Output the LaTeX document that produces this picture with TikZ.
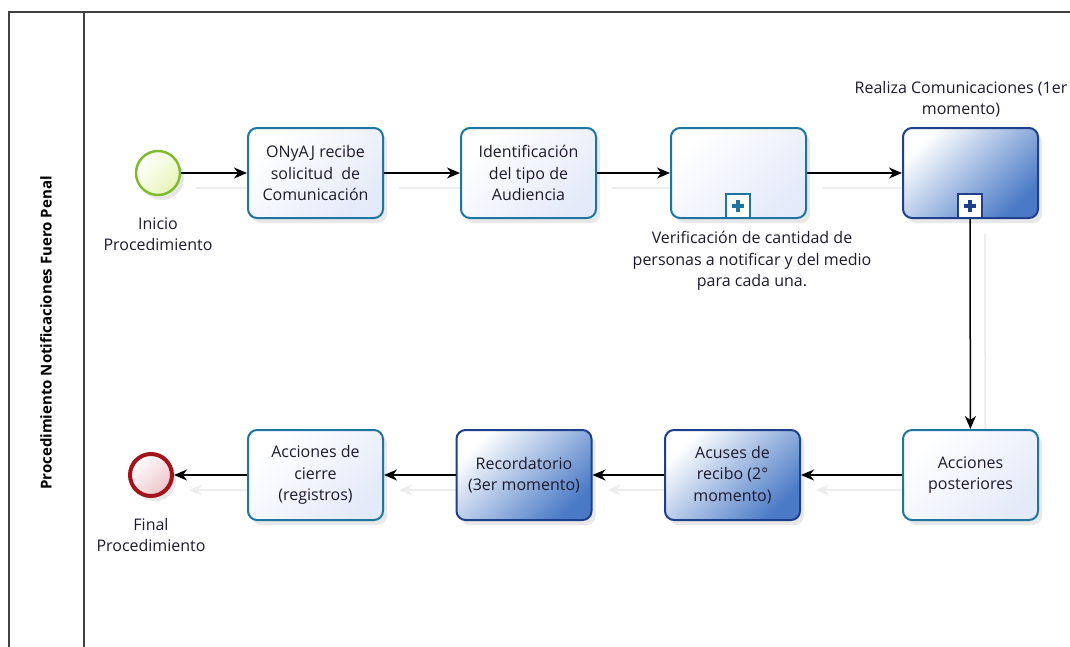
\documentclass[tikz,border=0pt]{standalone}
\usepackage{fontspec}
\setmainfont{Open Sans}
\usetikzlibrary{arrows.meta,shadows,backgrounds}
\definecolor{tstroke}{HTML}{1E76A0}
\definecolor{bstroke}{HTML}{1D3F8C}
\definecolor{lfill}{HTML}{E4EAF9}
\definecolor{bfill}{HTML}{4A7AC6}
\definecolor{gstroke}{HTML}{7DBB2A}
\definecolor{gfill}{HTML}{E6F4B8}
\definecolor{rstroke}{HTML}{A1141C}
\definecolor{rfill}{HTML}{EEC3C8}
\definecolor{txt}{HTML}{1E1A2E}
\definecolor{frame}{HTML}{404040}
\tikzset{
  fs/.style={font=\fontsize{16}{21.5}\selectfont, text=txt},
  task/.style={rounded corners=9pt, minimum width=135pt, minimum height=90pt,
    line width=2pt, align=center, fs,
    drop shadow={opacity=0.18, shadow xshift=4pt, shadow yshift=-5pt}},
  lighttask/.style={task, draw=tstroke, top color=white, bottom color=lfill, shading angle=45},
  bluetask/.style={task, draw=bstroke, top color=white, bottom color=bfill, shading angle=45},
  marker/.style={draw=#1, line width=1.6pt, fill=white, minimum size=24pt, inner sep=0pt,
    path picture={\draw[#1, line width=3.2pt]
      ([xshift=-6pt]path picture bounding box.center) -- ([xshift=6pt]path picture bounding box.center)
      ([yshift=-6pt]path picture bounding box.center) -- ([yshift=6pt]path picture bounding box.center);}},
  startev/.style={circle, minimum size=44pt, inner sep=0pt, draw=gstroke, line width=2.4pt,
    top color=white, bottom color=gfill, shading angle=45,
    drop shadow={opacity=0.18, shadow xshift=4pt, shadow yshift=-5pt}},
  endev/.style={circle, minimum size=42pt, inner sep=0pt, draw=rstroke, line width=4pt,
    top color=white, bottom color=rfill, shading angle=45,
    drop shadow={opacity=0.18, shadow xshift=4pt, shadow yshift=-5pt}},
  lbl/.style={fs, align=center, inner sep=0pt},
  flow/.style={line width=1.5pt, -{Stealth[length=13pt, width=11pt, inset=4pt]}},
  flowshadow/.style={draw=black!7, line width=2pt, -{Stealth[length=13pt, width=11pt, inset=4pt]},
      transform canvas={shift={(15pt,-15pt)}}},
}
\begin{document}
\begin{tikzpicture}[x=1pt, y=-1pt]
\useasboundingbox (0,0) rectangle (1070,646);
% pool frame
\coordinate (tl) at (9,12);
\coordinate (tr) at (1072,12);
\coordinate (bl) at (9,648);
\coordinate (dt) at (84,12);
\coordinate (db) at (84,648);
\draw[frame, line width=1.4pt] (tr) -- (tl) -- (bl);
\draw[frame, line width=1.4pt] (dt) -- (db);
\node[rotate=90, font=\fontsize{15}{18}\bfseries, text=black] (lane) at (46,333)
  {Procedimiento Notificaciones Fuero Penal};

% top row
\node[startev] (start) at (158,173) {};
\node[lbl] (startl) at (158,234) {Inicio\\Procedimiento};
\node[lighttask] (t1) at (315.5,173) {ONyAJ recibe\\solicitud\ \ de\\Comunicación};
\node[lighttask] (t2) at (528.5,173) {Identificación\\del tipo de\\Audiencia};
\node[lighttask] (t3) at (738.5,173) {};
\node[marker=tstroke] (m3) at (738,206) {};
\node[lbl] (t3l) at (752,261) {Verificación de cantidad de\\personas a notificar y del medio\\para cada una.};
\node[bluetask] (t4) at (970.5,173) {};
\node[marker=bstroke] (m4) at (970,206) {};
\node[lbl] (t4l) at (961,99) {Realiza Comunicaciones (1er\\momento)};

% bottom row
\node[lighttask] (t5) at (970.5,475) {Acciones\\posteriores};
\node[bluetask] (t6) at (732.5,475) {Acuses de\\recibo (2°\\momento)};
\node[bluetask] (t7) at (524,475) {Recordatorio\\(3er momento)};
\node[lighttask] (t8) at (315.5,475) {Acciones de\\cierre\\(registros)};
\node[endev] (end) at (151,475) {};
\node[lbl] (endl) at (151,535) {Final\\Procedimiento};

% connector shadows
\begin{pgfonlayer}{background}
\draw[flowshadow] (start) -- (t1);
\draw[flowshadow] (t1) -- (t2);
\draw[flowshadow] (t2) -- (t3);
\draw[flowshadow] (t3) -- (t4);
\draw[flowshadow] (m4.south) -- (t5);
\draw[flowshadow] (t5) -- (t6);
\draw[flowshadow] (t6) -- (t7);
\draw[flowshadow] (t7) -- (t8);
\draw[flowshadow] (t8) -- (end);
\end{pgfonlayer}

% connectors
\draw[flow] (start) -- (t1);
\draw[flow] (t1) -- (t2);
\draw[flow] (t2) -- (t3);
\draw[flow] (t3) -- (t4);
\draw[flow] (m4.south) -- (t5);
\draw[flow] (t5) -- (t6);
\draw[flow] (t6) -- (t7);
\draw[flow] (t7) -- (t8);
\draw[flow] (t8) -- (end);
\end{tikzpicture}
\end{document}
